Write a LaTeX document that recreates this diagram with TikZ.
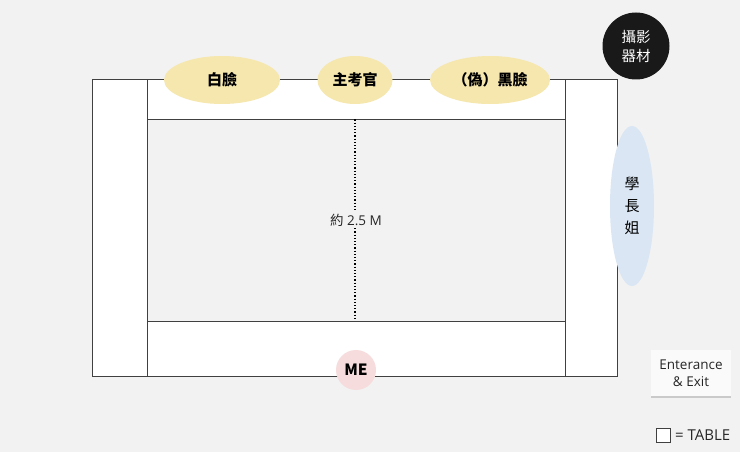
\documentclass[tikz,border=0pt]{standalone}
\usepackage{fontspec}
\setmainfont{Noto Sans CJK TC}
\newfontfamily\latinfont{Open Sans}
\usetikzlibrary{shapes.geometric,shadows}
\definecolor{bg}{HTML}{F2F2F2}
\definecolor{faceyellow}{HTML}{F5E7AE}
\definecolor{seniorblue}{HTML}{DAE6F3}
\definecolor{mepink}{HTML}{F6DCDC}
\tikzset{
  tablebox/.style={draw=black!75, line width=0.9pt, fill=white, inner sep=0pt},
  person/.style={ellipse, fill=faceyellow, inner sep=0pt, font=\fontsize{15}{17}\selectfont\bfseries},
  note/.style={font=\latinfont\fontsize{13.5}{17}\selectfont, text=black!85}
}
\begin{document}
\begin{tikzpicture}[x=1pt, y=-1pt]
  \useasboundingbox[fill=bg] (0,0) rectangle (740,452);
  % Define tables
  \node[tablebox, minimum width=55, minimum height=297]  (lefttable)   at (119.5,227.5) {};
  \node[tablebox, minimum width=52, minimum height=297]  (righttable)  at (591,227.5)   {};
  \node[tablebox, minimum width=418, minimum height=40]  (toptable)    at (356,99)      {};
  \node[tablebox, minimum width=418, minimum height=55]  (bottomtable) at (356,348.5)   {};

  % Distance
  \coordinate (mid) at (355,0);
  \draw[dotted, line width=1.2pt] (toptable.south -| mid) -- (bottomtable.north -| mid);
  \node[note, fill=bg, inner sep=2pt] (dist) at (356,220) {{\normalfont\fontsize{13.5}{17}\selectfont 約} 2.5 M};

  % Define people
  \node[person, minimum width=116, minimum height=48] (baimian)  at (222,80) {白臉};
  \node[person, minimum width=75,  minimum height=48] (kaoguan)  at (355,80) {主考官};
  \node[person, minimum width=120, minimum height=48] (heimian)  at (490,80) {（偽）黑臉};
  \node[circle, fill=black!90, text=white, minimum size=67, inner sep=0pt,
        font=\fontsize{14.5}{19}\selectfont, align=center] (camera) at (636,46) {攝影\\器材};
  \node[ellipse, fill=seniorblue, minimum width=44, minimum height=160, inner sep=0pt,
        font=\fontsize{15}{22}\selectfont, align=center] (senior) at (632,206) {學\\長\\姐};
  \node[circle, fill=mepink, minimum size=40, inner sep=0pt,
        font=\fontsize{15.5}{17}\selectfont\bfseries] (me) at (356,370) {ME};

  % Legend
  \node[note, fill=white!60!bg, align=center, minimum width=80, minimum height=46,
        drop shadow={shadow xshift=0pt, shadow yshift=-2pt, opacity=0.35}] (door) at (691,373) {Enterance\\\& Exit};
  \node[draw=black!75, line width=0.8pt, fill=white, minimum size=14, inner sep=0pt] (legbox) at (663,435) {};
  \node[note, anchor=west, font=\latinfont\fontsize{15}{17}\selectfont, inner sep=0pt] (legtext) at (675,435) {= TABLE};
\end{tikzpicture}
\end{document}
